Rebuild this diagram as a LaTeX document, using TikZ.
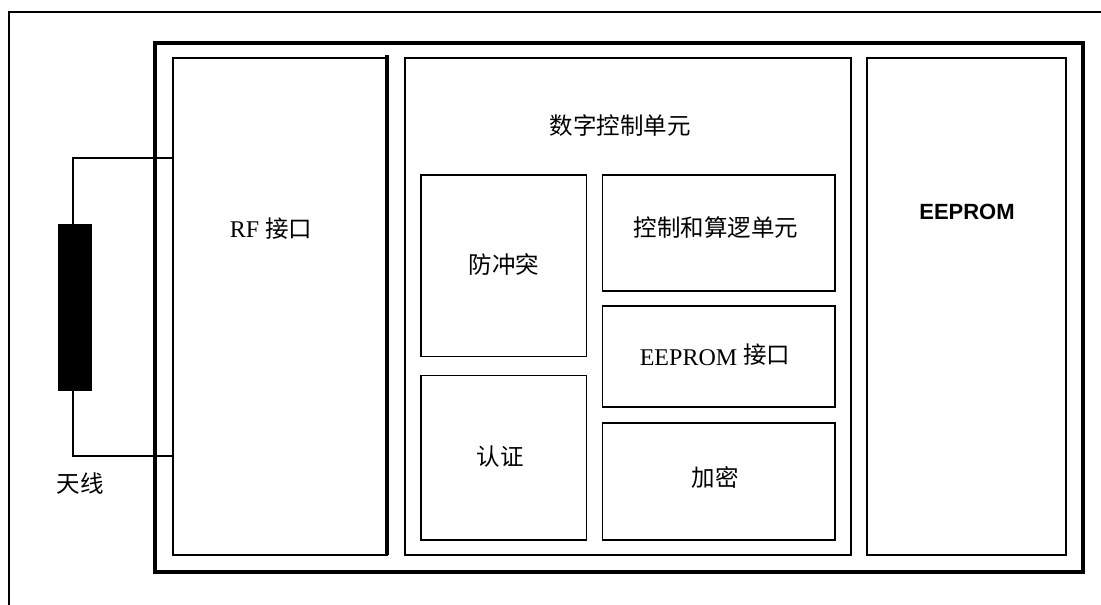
\documentclass[tikz,border=0pt]{standalone}
\usepackage{fontspec}
\setmainfont{Liberation Serif}
\setsansfont{Liberation Sans}
\newfontfamily\cjk{Noto Sans CJK SC}
\newcommand{\cj}[1]{{\cjk\fontsize{23.5}{27}\selectfont #1}}
\begin{document}
\begin{tikzpicture}[x=1pt,y=-1pt,
  box/.style={draw=black, line width=1.5pt, inner sep=0pt, outer sep=0pt, anchor=north west},
  chipbox/.style={draw=black, line width=3.4pt, inner sep=0pt, outer sep=0pt, anchor=north west},
  wire/.style={draw=black, line width=1.5pt},
  txt/.style={inner sep=0pt, font=\fontsize{24}{28}\selectfont},
  btxt/.style={inner sep=0pt, font=\sffamily\bfseries\fontsize{22}{26}\selectfont}]
\useasboundingbox (0,0) rectangle (1101,605);
% outer frame (open to right and bottom)
\coordinate (fbl) at (9,605);
\coordinate (ftl) at (9,12);
\coordinate (ftr) at (1101,12);
\draw[line width=1.5pt] (fbl) -- (ftl) -- (ftr);
% chip
\node[chipbox, minimum width=928pt, minimum height=529pt] (chip) at (155,43) {};
% main blocks
\node[box, minimum width=214pt, minimum height=497pt] (rf) at (173,58) {};
\coordinate (rfa) at (387,55);
\coordinate (rfb) at (387,555);
\draw[line width=3.6pt] (rfa) -- (rfb);
\node[box, minimum width=446pt, minimum height=497pt] (dcu) at (405,58) {};
\node[box, minimum width=199pt, minimum height=497pt] (eep) at (867,58) {};
% inner blocks
\node[box, minimum width=165.5pt, minimum height=181.5pt] (acoll) at (421,175) {};
\node[box, minimum width=165.5pt, minimum height=164.5pt] (auth) at (421,375.5) {};
\node[box, minimum width=232.5pt, minimum height=116pt] (alu) at (602.5,175) {};
\node[box, minimum width=232.5pt, minimum height=101pt] (eif) at (602.5,306) {};
\node[box, minimum width=232.5pt, minimum height=117pt] (enc) at (602.5,423) {};
% antenna
\node[fill=black, draw=black, line width=0.5pt, inner sep=0pt, outer sep=0pt, minimum width=33pt, minimum height=166pt] (ant) at (74.25,307) {};
\coordinate (wt) at (73,158);
\coordinate (wb) at (73,456);
\coordinate (rft) at (173,158);
\coordinate (rfbm) at (173,456);
\draw[wire] (ant.north -| wt) -- (wt) -- (rft);
\draw[wire] (ant.south -| wb) -- (wb) -- (rfbm);
% labels
\node[txt] (lrf) at (271,229) {RF \cj{接口}};
\node[txt] (ldcu) at (620,126) {\cj{数字控制单元}};
\node[btxt] (leep) at (967,212) {EEPROM};
\node[txt] (lacoll) at (504,264) {\cj{防冲突}};
\node[txt] (lalu) at (716,228) {\cj{控制和算逻单元}};
\node[txt] (leif) at (715,355) {EEPROM \raisebox{2pt}{\cj{接口}}};
\node[txt] (lauth) at (500,457) {\cj{认证}};
\node[txt] (lenc) at (715,477) {\cj{加密}};
\node[txt] (lant) at (80,484) {\cj{天线}};
\end{tikzpicture}
\end{document}
